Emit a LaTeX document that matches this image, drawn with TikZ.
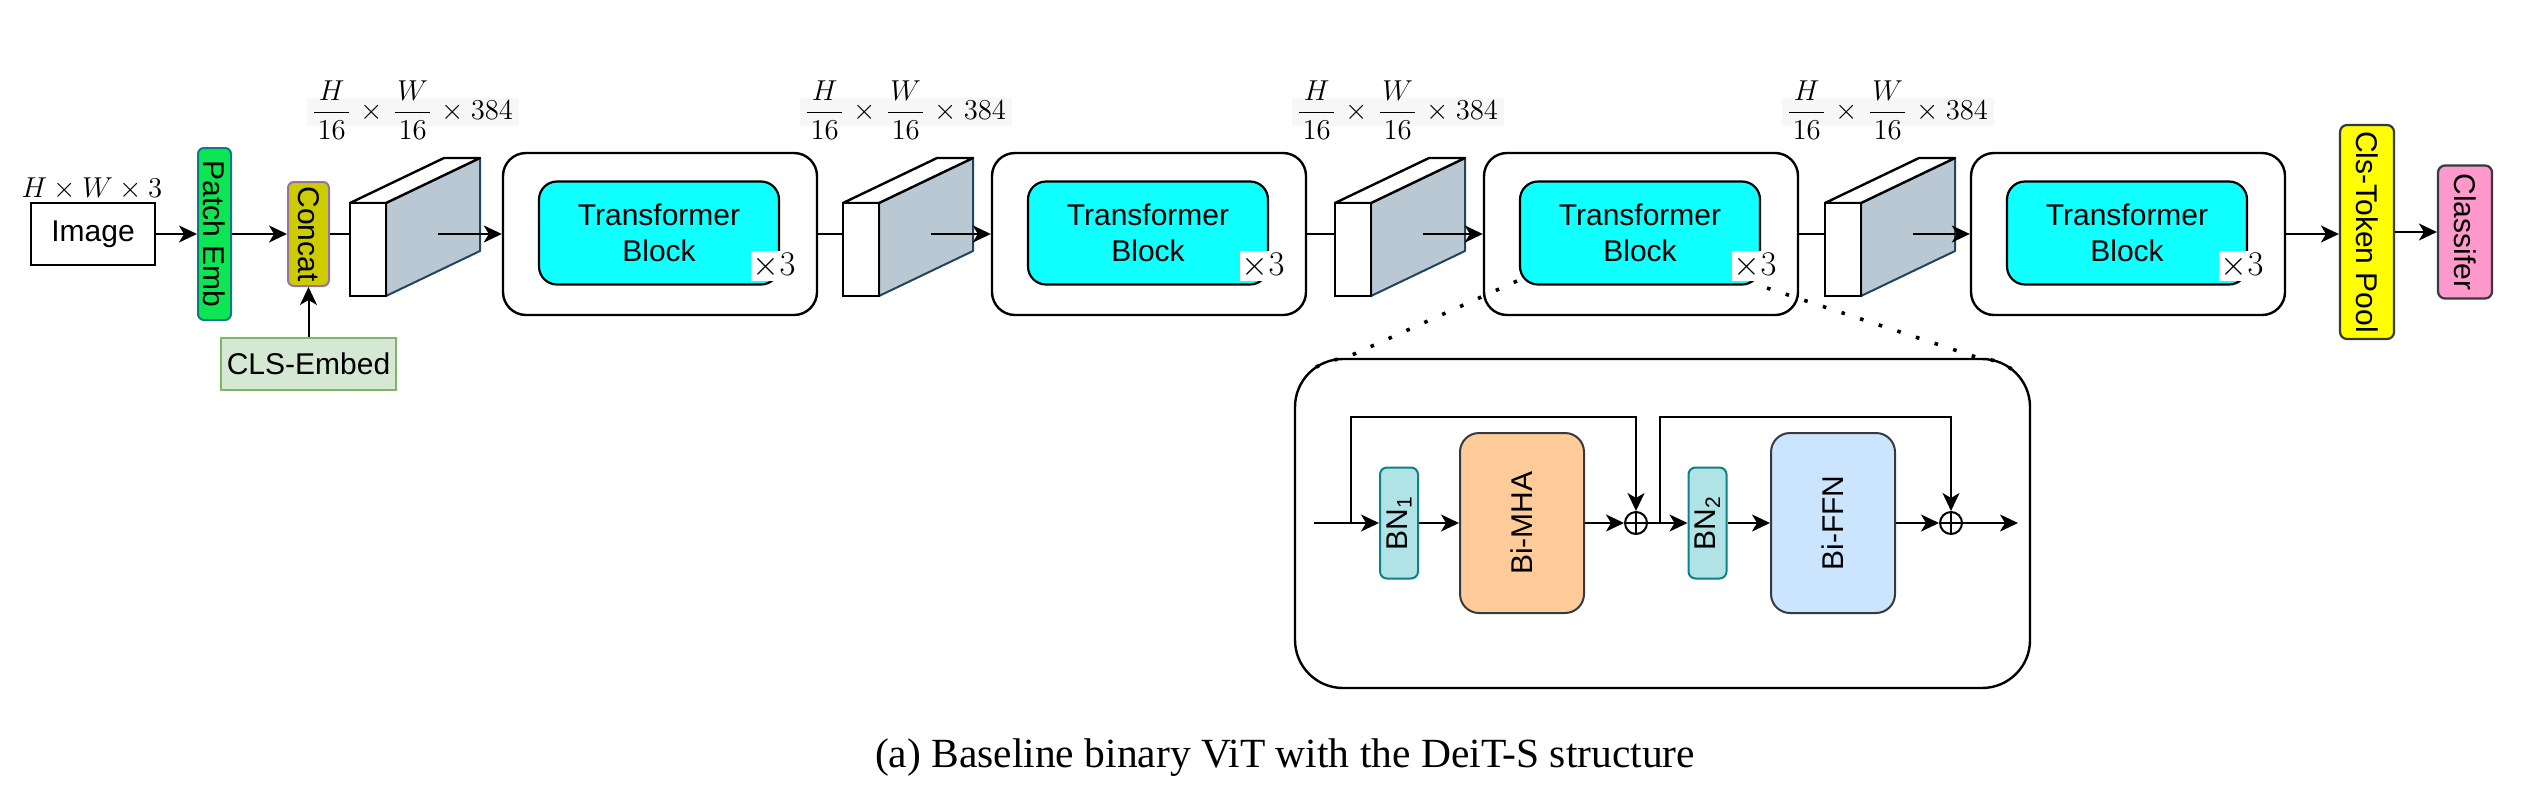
\documentclass[tikz,border=0pt]{standalone}
\usepackage{amsmath}
\usepackage{fontspec}
\setmainfont{Liberation Serif}
\setsansfont{Liberation Sans}
\usepackage{graphicx}
\usetikzlibrary{arrows.meta,calc}
\definecolor{patchfill}{RGB}{12,230,82}
\definecolor{patchdraw}{RGB}{18,118,140}
\definecolor{concatfill}{HTML}{CCCC00}
\definecolor{concatdraw}{HTML}{9673A6}
\definecolor{clsfill}{HTML}{D5E8D4}
\definecolor{clsdraw}{HTML}{82B366}
\definecolor{sidefill}{HTML}{BAC8D3}
\definecolor{sidedraw}{HTML}{23445D}
\definecolor{tcyan}{HTML}{10FFFF}
\definecolor{bnfill}{HTML}{B0E3E6}
\definecolor{bndraw}{HTML}{0E8088}
\definecolor{mhafill}{HTML}{FFCC99}
\definecolor{ffnfill}{HTML}{CCE5FF}
\definecolor{darkdraw}{HTML}{36393D}
\definecolor{poolfill}{HTML}{FFFF00}
\definecolor{classfill}{HTML}{FF99CC}
\definecolor{lblbg}{RGB}{247,247,247}
\newcommand{\mycube}[2]{%
  \draw[cubeside] ({#2+36},203) -- ({#2+130},158) -- ({#2+130},251) -- ({#2+36},296) -- cycle;
  \draw[cubetop] (#2,203) -- ({#2+94},158) -- ({#2+130},158) -- ({#2+36},203) -- cycle;
  \node[cubefront] (f#1) at ({#2+18},249.5) {};
  \coordinate (a#1) at ({#2+88},234);
}
\newcommand{\mydim}[2]{%
  \fill[lblbg] ({#2+62.5-106},98) rectangle ({#2+62.5+106},126);
  \node[anchor=base, inner sep=0pt] (dim#1) at ({#2+62.5},119.5)
    {$\dfrac{H}{\mkern2mu 16\mkern2mu}\mkern2mu\times\mkern2mu\dfrac{W}{\mkern2mu 16\mkern2mu}\mkern2mu\times 384$};
}
\newcommand{\mytb}[2]{%
  \node[tbout] (tb#1) at ({#2+157},234) {};
  \node[tbin] (ti#1) at ({#2+156},233) {Transformer\\Block};
  \node[timesbox] (x#1) at ({#2+271},266) {$\times3$};
}
\begin{document}
\begin{tikzpicture}[x=0.5pt,y=-0.5pt,
  font=\sffamily\fontsize{15pt}{18pt}\selectfont,
  arr/.style={-{Stealth[length=9pt,width=8.5pt,inset=2.5pt]}, line width=1pt},
  ln/.style={line width=1pt},
  imgbox/.style={draw, line width=1.2pt, fill=white, minimum width=62pt, minimum height=31pt, inner sep=0pt},
  patchbox/.style={draw=patchdraw, fill=patchfill, line width=1pt, rounded corners=3pt, minimum width=16.5pt, minimum height=86pt, inner sep=0pt},
  concatbox/.style={draw=concatdraw, fill=concatfill, line width=1pt, rounded corners=3pt, minimum width=20.5pt, minimum height=52pt, inner sep=0pt},
  clsbox/.style={draw=clsdraw, fill=clsfill, line width=1pt, minimum width=87.5pt, minimum height=26pt, inner sep=0pt},
  cubeside/.style={draw=sidedraw, fill=sidefill, line width=1pt, line join=round},
  cubetop/.style={draw=black, fill=white, line width=1.2pt, line join=round},
  cubefront/.style={draw=black, fill=white, line width=1.2pt, minimum width=18pt, minimum height=46.5pt, inner sep=0pt},
  tbout/.style={draw=black, fill=white, line width=1.2pt, rounded corners=11.5pt, minimum width=157pt, minimum height=81pt, inner sep=0pt},
  tbin/.style={draw=black, fill=tcyan, line width=1.1pt, rounded corners=9pt, minimum width=120pt, minimum height=51.5pt, inner sep=0pt, align=center},
  timesbox/.style={fill=white, inner sep=1pt, font=\fontsize{17pt}{20pt}\selectfont},
  bnbox/.style={draw=bndraw, fill=bnfill, line width=1pt, rounded corners=3.5pt, minimum width=19pt, minimum height=55.5pt, inner sep=0pt},
  mhabox/.style={draw=darkdraw, fill=mhafill, line width=1pt, rounded corners=9.5pt, minimum width=62pt, minimum height=90pt, inner sep=0pt},
  ffnbox/.style={draw=darkdraw, fill=ffnfill, line width=1pt, rounded corners=9.5pt, minimum width=62pt, minimum height=90pt, inner sep=0pt},
  poolbox/.style={draw=darkdraw, fill=poolfill, line width=1.1pt, rounded corners=3.5pt, minimum width=27pt, minimum height=107pt, inner sep=0pt},
  classbox/.style={draw=darkdraw, fill=classfill, line width=1.1pt, rounded corners=3.5pt, minimum width=27pt, minimum height=66.5pt, inner sep=0pt},
  oplusnode/.style={circle, draw, line width=1pt, minimum size=11pt, inner sep=0pt,
    path picture={\draw[line width=1pt] (path picture bounding box.north) -- (path picture bounding box.south)
      (path picture bounding box.west) -- (path picture bounding box.east);}},
  dotline/.style={line width=1.8pt, dash pattern=on 1.8pt off 8pt},
]
\fill[white] (0,0) rectangle (2530,809);
\useasboundingbox (0,0) rectangle (2530,809);

% input
\node[imgbox] (img) at (93,234) {Image};
\node[anchor=base, inner sep=0pt] (imglab) at (92,197) {$H\times W\times 3$};
\node[patchbox] (pe) at (214.5,234) {\rotatebox{-90}{Patch Emb}};
\node[concatbox] (cc) at (308.5,234) {\rotatebox{-90}{Concat}};
\node[clsbox] (cls) at (308.5,364) {CLS-Embed};
\draw[arr] (img) -- (pe);
\draw[arr] (pe) -- (cc);
\draw[arr] (cls.north) -- (cc.south);

% cuboids, labels, transformer blocks
\mycube{1}{350}
\mycube{2}{843}
\mycube{3}{1335}
\mycube{4}{1825}
\mydim{1}{350}
\mydim{2}{843}
\mydim{3}{1335}
\mydim{4}{1825}
\mytb{1}{503}
\mytb{2}{992}
\mytb{3}{1484}
\mytb{4}{1971}

\draw[ln] (cc.east) -- (cc.east -| f1.west);
\draw[arr] (a1) -- (tb1.west);
\draw[ln] (tb1.east) -- (tb1.east -| f2.west);
\draw[arr] (a2) -- (tb2.west);
\draw[ln] (tb2.east) -- (tb2.east -| f3.west);
\draw[arr] (a3) -- (tb3.west);
\draw[ln] (tb3.east) -- (tb3.east -| f4.west);
\draw[arr] (a4) -- (tb4.west);

% head
\node[poolbox] (pool) at (2367,232) {\rotatebox{-90}{Cls-Token Pool}};
\node[classbox] (clf) at (2465,232) {\rotatebox{-90}{Classifer}};
\draw[arr] (tb4.east) -- (tb4.east -| pool.west);
\draw[arr] (pool) -- (clf);

% expanded block
\node[tbout, rounded corners=24pt, minimum width=367.5pt, minimum height=164.5pt] (big) at (1662.5,523.5) {};
\coordinate (d1s) at (1517,281);
\coordinate (d1e) at (1343,359);
\coordinate (d2s) at (1767,288);
\coordinate (d2e) at (1982,359);
\draw[dotline] (d1s) -- (d1e) arc[start angle=90, end angle=128, radius=24pt];
\draw[dotline] (d2s) -- (d2e) arc[start angle=90, end angle=52, radius=24pt];

\node[bnbox] (bn1) at (1399,523) {\rotatebox{90}{BN\textsubscript{1}}};
\node[mhabox] (mha) at (1522,523) {\rotatebox{90}{Bi-MHA}};
\node[oplusnode] (o1) at (1636,523) {};
\node[bnbox] (bn2) at (1707.5,523) {\rotatebox{90}{BN\textsubscript{2}}};
\node[ffnbox] (ffn) at (1833,523) {\rotatebox{90}{Bi-FFN}};
\node[oplusnode] (o2) at (1951,523) {};
\coordinate (bin) at (1314,523);
\coordinate (s1) at (1351,523);
\coordinate (s2) at (1660,523);
\coordinate (bout) at (2018,523);
\draw[arr] (bin) -- (bn1);
\draw[arr] (bn1) -- (mha);
\draw[arr] (mha) -- (o1);
\draw[arr] (o1) -- (bn2);
\draw[arr] (bn2) -- (ffn);
\draw[arr] (ffn) -- (o2);
\draw[arr] (o2) -- (bout);
\draw[arr] (s1) -- ++(0,-106) -| (o1.north);
\draw[arr] (s2) -- ++(0,-106) -| (o2.north);

% caption
\node[anchor=base, inner sep=0pt, font=\rmfamily\fontsize{20.75pt}{25pt}\selectfont] (cap) at (1285,767) {(a) Baseline binary ViT with the DeiT-S structure};
\end{tikzpicture}
\end{document}
